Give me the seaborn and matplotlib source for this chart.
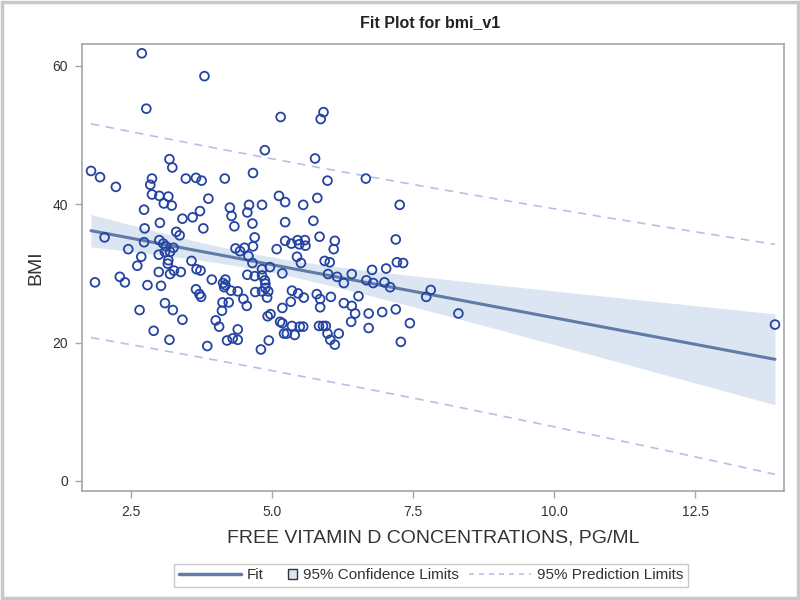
import numpy as np
import pandas as pd
import matplotlib
matplotlib.use("Agg")
import matplotlib.pyplot as plt
from matplotlib.lines import Line2D
from matplotlib.patches import Patch, Rectangle
from matplotlib.legend_handler import HandlerPatch
import seaborn as sns

# ---- data ----
vitd = [2.69, 3.80, 2.77, 3.18, 3.23, 1.79, 1.95, 2.23, 2.87, 2.84, 3.47, 3.65, 3.75, 4.16, 4.66,
        2.87, 3.00, 3.16, 3.08, 3.22, 3.87, 2.73, 3.72, 3.59, 3.41, 4.25, 4.28, 4.59, 4.56, 3.01,
        3.78, 4.33, 4.65, 2.74, 3.30, 3.36, 2.03, 4.69, 3.00, 2.73, 3.07, 3.12, 2.45, 3.25, 3.19,
        3.10, 2.99, 2.68, 3.16, 3.15, 2.61, 3.57, 4.35, 4.43, 4.51, 4.66, 4.58, 4.65, 3.66, 3.73,
        2.99, 3.26, 3.38, 3.19, 3.93, 4.17, 4.56, 4.69, 2.30, 2.39, 1.86, 4.13, 4.17, 4.15, 2.79,
        3.03, 3.65, 3.71, 3.74, 4.27, 4.39, 4.49, 4.70,
        3.10, 3.24, 2.65, 4.12, 4.23, 4.11, 4.55, 3.41, 4.00, 4.06, 2.90, 4.39, 3.18, 4.20, 4.30,
        4.39, 3.85,
        5.15, 5.91, 5.86, 4.87, 5.76, 5.98, 6.66, 5.12, 5.23, 5.80, 4.82, 5.55, 7.26, 5.23, 5.73,
        5.84, 6.11, 7.19,
        5.23, 5.34, 5.45, 5.58, 5.48, 5.59, 5.08, 6.09, 5.44, 5.51, 5.93, 6.02, 7.21, 7.32, 4.96,
        5.18, 4.82, 4.82, 4.87, 4.88, 5.99, 6.15, 6.27, 6.41, 6.67, 6.79, 6.77, 7.02, 6.99, 7.09,
        4.82, 4.93, 4.88, 4.91, 5.35, 5.46, 5.56, 5.79, 5.85, 5.85, 6.04, 6.27, 6.41, 6.47, 6.40,
        6.53, 6.71, 6.95, 7.19, 6.71, 7.44, 7.28, 5.33, 5.18, 4.92, 4.97, 5.14, 5.18, 5.21, 5.26,
        5.40, 5.35, 5.49, 5.55, 5.83, 5.90, 5.95, 5.98, 6.18, 6.03, 6.11, 4.94, 4.80,
        7.81, 7.73, 8.30, 13.91]
bmi = [61.8, 58.5, 53.8, 46.5, 45.3, 44.8, 43.9, 42.5, 43.7, 42.8, 43.7, 43.8, 43.4, 43.7, 44.5,
       41.4, 41.2, 41.1, 40.1, 39.8, 40.8, 39.2, 39.0, 38.1, 37.9, 39.5, 38.3, 39.9, 38.8, 37.3,
       36.5, 36.8, 37.2, 36.5, 36.0, 35.5, 35.2, 35.2, 34.8, 34.5, 34.3, 33.9, 33.5, 33.7, 33.1,
       33.1, 32.7, 32.4, 31.9, 31.4, 31.1, 31.8, 33.6, 33.2, 33.7, 33.9, 32.5, 31.5, 30.6, 30.4,
       30.2, 30.4, 30.2, 29.9, 29.1, 29.1, 29.8, 29.6, 29.5, 28.7, 28.7, 28.6, 28.3, 28.0, 28.3,
       28.2, 27.7, 27.0, 26.6, 27.5, 27.4, 26.3, 27.3,
       25.7, 24.7, 24.7, 25.8, 25.8, 24.6, 25.3, 23.3, 23.2, 22.3, 21.7, 21.9, 20.4, 20.3, 20.6,
       20.4, 19.5,
       52.6, 53.3, 52.3, 47.8, 46.6, 43.4, 43.7, 41.2, 40.3, 40.9, 39.9, 39.9, 39.9, 37.4, 37.6,
       35.3, 34.7, 34.9,
       34.7, 34.3, 34.8, 34.8, 34.2, 34.0, 33.5, 33.5, 32.4, 31.5, 31.8, 31.6, 31.6, 31.5, 30.9,
       30.0, 30.6, 29.7, 29.0, 28.5, 29.9, 29.5, 28.6, 29.9, 29.0, 28.6, 30.5, 30.7, 28.7, 28.0,
       27.4, 27.4, 27.9, 26.5, 27.5, 27.1, 26.5, 27.0, 26.3, 25.1, 26.6, 25.7, 25.3, 24.2, 23.0,
       26.7, 24.2, 24.4, 24.8, 22.1, 22.8, 20.1, 25.9, 25.0, 23.8, 24.1, 23.0, 22.8, 21.3, 21.3,
       21.1, 22.4, 22.3, 22.3, 22.4, 22.4, 22.4, 21.3, 21.3, 20.4, 19.7, 20.3, 19.0,
       27.6, 26.6, 24.2, 22.6]

x_ticks = [2.5, 5.0, 7.5, 10.0, 12.5]
y_ticks = [0, 20, 40, 60]
title = "Fit Plot for bmi_v1"
x_label = "FREE VITAMIN D CONCENTRATIONS, PG/ML"
y_label = "BMI"
legend_labels = ["Fit", "95% Confidence Limits", "95% Prediction Limits"]

df = pd.DataFrame({"x": vitd, "y": bmi})

# ---- OLS fit with analytic 95% confidence and prediction limits ----
x = df["x"].to_numpy()
y = df["y"].to_numpy()
n = len(x)
b1, b0 = np.polyfit(x, y, 1)
resid = y - (b0 + b1 * x)
s = np.sqrt(np.sum(resid ** 2) / (n - 2))
xbar = x.mean()
sxx = np.sum((x - xbar) ** 2)
t = 1.9727  # t(0.975, n-2) for n ~ 190
xg = np.linspace(x.min(), x.max(), 200)
yhat = b0 + b1 * xg
se_mean = s * np.sqrt(1 / n + (xg - xbar) ** 2 / sxx)
se_pred = s * np.sqrt(1 + 1 / n + (xg - xbar) ** 2 / sxx)
fit = pd.DataFrame({"x": xg, "fit": yhat,
                    "lcl": yhat - t * se_mean, "ucl": yhat + t * se_mean,
                    "lpl": yhat - t * se_pred, "upl": yhat + t * se_pred})

# ---- styling ----
fit_color = "#5E7CA6"
band_color = "#DCE5F2"
pred_color = "#B9BEE6"
marker_color = "#2443A3"
frame_color = "#A6A6A6"

sns.set_style("white")
plt.rcParams["font.family"] = ["Liberation Sans", "DejaVu Sans"]

fig = plt.figure(figsize=(8, 6), dpi=100)
ax = fig.add_axes([0.1025, 0.1817, 0.8775, 0.745])

ax.fill_between(fit["x"], fit["lcl"], fit["ucl"], color=band_color, lw=0, zorder=1)
sns.lineplot(data=fit, x="x", y="upl", ax=ax, color=pred_color, lw=1.2,
             linestyle=(0, (5, 4)), zorder=2)
sns.lineplot(data=fit, x="x", y="lpl", ax=ax, color=pred_color, lw=1.2,
             linestyle=(0, (5, 4)), zorder=2)
sns.lineplot(data=fit, x="x", y="fit", ax=ax, color=fit_color, lw=2.2, zorder=3)
sns.scatterplot(data=df, x="x", y="y", ax=ax, marker="o", s=40,
                facecolor="none", edgecolor=marker_color, linewidth=1.3, zorder=4)

ax.set_xlim(1.63, 14.07)
ax.set_ylim(-1.45, 63.15)
ax.set_xticks(x_ticks)
ax.set_xticklabels([f"{v:.1f}" for v in x_ticks])
ax.set_yticks(y_ticks)
ax.set_yticklabels([str(v) for v in y_ticks])
ax.tick_params(axis="both", which="major", bottom=True, left=True, direction="out",
               length=5, width=1, color=frame_color,
               labelsize=10, labelcolor="#333333", pad=5)
for sp in ax.spines.values():
    sp.set_color(frame_color)
    sp.set_linewidth(1.2)

ax.set_xlabel(x_label, fontsize=14, color="#333333", labelpad=8)
ax.set_ylabel(y_label, fontsize=14, color="#333333", labelpad=6)
fig.text(0.5375, 0.963, title, ha="center", va="center", fontsize=11.5,
         fontweight="bold", color="#222222")


class SquareRight(HandlerPatch):
    def create_artists(self, legend, orig_handle, xdescent, ydescent, width, height,
                       fontsize, trans):
        side = 0.6 * fontsize
        p = Rectangle((width - side - xdescent, -ydescent + (height - side) / 2), side, side,
                      facecolor=orig_handle.get_facecolor(),
                      edgecolor=orig_handle.get_edgecolor(), linewidth=1.0, transform=trans)
        return [p]


sq = Patch(facecolor=band_color, edgecolor="#333333")
handles = [Line2D([0], [0], color=fit_color, lw=2.5),
           sq,
           Line2D([0], [0], color=pred_color, lw=1.2, linestyle=(0, (3, 3)))]
labels_padded = [legend_labels[0], legend_labels[1] + " " * 9, legend_labels[2]]
leg = fig.legend(handles, labels_padded, loc="center", bbox_to_anchor=(0.539, 0.041),
                 ncol=3, frameon=True, fontsize=11, handlelength=4.06, handleheight=0.7,
                 columnspacing=-1.87, handletextpad=0.4, borderpad=0.3, fancybox=False,
                 handler_map={sq: SquareRight()})
leg.get_frame().set_edgecolor("#BBBBBB")
leg.get_frame().set_linewidth(1.0)
for txt in leg.get_texts():
    txt.set_color("#333333")

fig.patches.append(Rectangle((0.002, 0.003), 0.996, 0.994, transform=fig.transFigure,
                             fill=False, edgecolor="#C8C8C8", linewidth=2.5))

fig.savefig("out.png", dpi=100)
